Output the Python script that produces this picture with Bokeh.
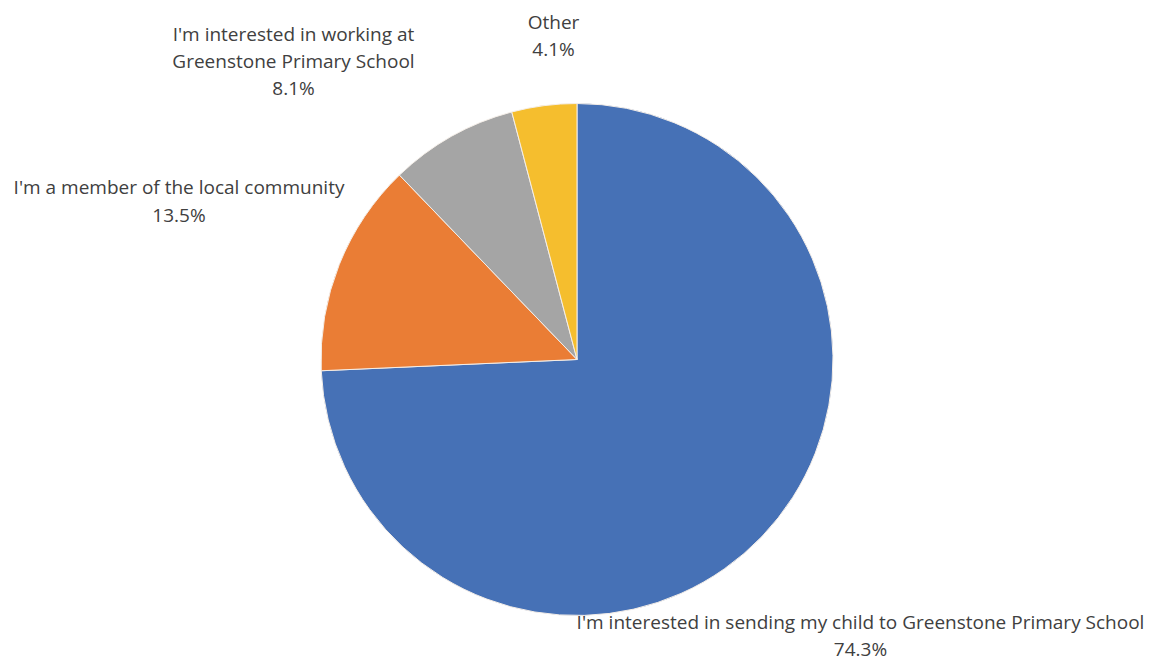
import math
from bokeh.plotting import figure
from bokeh.models import ColumnDataSource, Range1d
from bokeh.core.properties import value
from bokeh.embed import file_html
from bokeh.resources import INLINE

# ---- data ----
categories = [
    "I'm interested in sending my child to Greenstone Primary School",
    "I'm a member of the local community",
    "I'm interested in working at\nGreenstone Primary School",
    "Other",
]
shares = [74.3, 13.5, 8.1, 4.1]
colors = ["#4671B6", "#EA7D35", "#A5A5A5", "#F5BE2E"]

# ---- layout (pixels) ----
W, H = 1149, 664
cx, cy, R = 576.5, 305, 256
label_pos = [(860, 29), (178.5, 463.5), (293, 603.5), (553, 629)]

total = sum(shares)
starts, ends = [], []
acc = 0.0
for s in shares:
    a0 = math.pi / 2 - 2 * math.pi * acc / total
    acc += s
    a1 = math.pi / 2 - 2 * math.pi * acc / total
    starts.append(a1)
    ends.append(a0)

src = ColumnDataSource(dict(start=starts, end=ends, color=colors))

p = figure(width=W, height=H, output_backend="svg", toolbar_location=None,
           x_range=Range1d(0, W), y_range=Range1d(0, H), min_border=0)
p.axis.visible = False
p.grid.visible = False
p.outline_line_color = None
p.background_fill_color = "white"

p.wedge(x=cx, y=cy, radius=R, start_angle="start", end_angle="end",
        fill_color="color", line_color="#F4EEE8", line_width=1, source=src)

texts = [f"{c}\n{s:.1f}%" for c, s in zip(categories, shares)]
lsrc = ColumnDataSource(dict(x=[q[0] for q in label_pos], y=[q[1] for q in label_pos], t=texts))
p.text(x="x", y="y", text="t", source=lsrc, text_align="center", text_baseline="middle",
       text_font=value("Open Sans"), text_font_size="19px", text_color="#404040",
       text_line_height=1.05)

open("out.html", "w").write(file_html(p, INLINE))
